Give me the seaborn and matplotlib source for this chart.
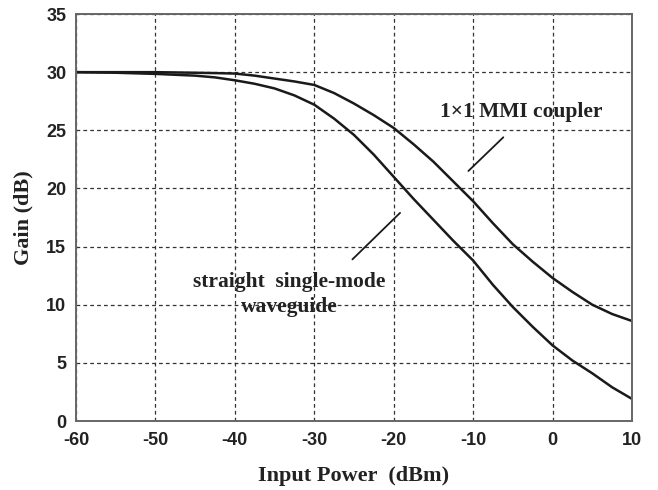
import numpy as np
import pandas as pd
import matplotlib
matplotlib.use("Agg")
import matplotlib.pyplot as plt
import seaborn as sns
from matplotlib.ticker import MultipleLocator

# values
input_power = [-60, -55, -50, -45, -42.5, -40, -37.5, -35, -32.5, -30, -27.5, -25, -22.5, -20,
               -17.5, -15, -12.5, -10, -7.5, -5, -2.5, 0, 2.5, 5, 7.5, 10]
gain_mmi = [30.0, 30.0, 30.0, 29.95, 29.92, 29.88, 29.7, 29.45, 29.2, 28.9, 28.2, 27.3, 26.3, 25.2,
            23.8, 22.3, 20.6, 18.9, 17.0, 15.2, 13.7, 12.3, 11.1, 10.0, 9.2, 8.6]
gain_straight = [30.0, 29.95, 29.85, 29.7, 29.55, 29.3, 29.0, 28.6, 28.0, 27.2, 26.0, 24.6, 22.9, 21.0,
                 19.1, 17.3, 15.5, 13.8, 11.7, 9.8, 8.1, 6.5, 5.2, 4.1, 2.9, 1.9]

x_ticks = [-60, -50, -40, -30, -20, -10, 0, 10]
y_ticks = [0, 5, 10, 15, 20, 25, 30, 35]

df = pd.DataFrame({"power": input_power * 2,
                   "gain": gain_mmi + gain_straight,
                   "guide": ["mmi"] * len(input_power) + ["straight"] * len(input_power)})

sns.set_style("white")
plt.rcParams['font.family'] = ['Liberation Sans', 'DejaVu Sans']
plt.rcParams['axes.unicode_minus'] = False

fig = plt.figure(figsize=(6.58, 4.90), dpi=100)
ax = fig.add_axes([0.1155, 0.1408, 0.845, 0.8306])

sns.lineplot(data=df, x="power", y="gain", units="guide", estimator=None,
             color="#1a1a1a", linewidth=1.8, ax=ax, legend=False)

ax.set_xlim(-60, 10)
ax.set_ylim(0, 35)
ax.set_xticks(x_ticks)
ax.set_yticks(y_ticks)
ax.set_xticklabels([str(v) for v in x_ticks])
ax.set_yticklabels([str(v) for v in y_ticks])
ax.xaxis.set_minor_locator(MultipleLocator(5))
ax.yaxis.set_minor_locator(MultipleLocator(2.5))
ax.tick_params(which="both", direction="in", top=False, right=False, color="#555555")
ax.tick_params(which="major", length=0, labelsize=13, labelcolor="#222222")
ax.tick_params(axis="x", which="major", pad=8)
ax.tick_params(axis="y", which="major", pad=7)
ax.tick_params(which="minor", length=4, width=1)
for lab in ax.get_xticklabels() + ax.get_yticklabels():
    lab.set_fontweight("bold")

ax.grid(True, which="major", linestyle=(0, (3, 2.5)), color="#333333", linewidth=0.9)
for s in ax.spines.values():
    s.set_color("#666666")
    s.set_linewidth(1.4)
    s.set_visible(True)

serif = ['Liberation Serif', 'DejaVu Serif']
ax.set_xlabel("Input Power  (dBm)", family=serif, fontweight="bold", fontsize=16, color="#222222", labelpad=12)
ax.set_ylabel("Gain (dB)", family=serif, fontweight="bold", fontsize=16, color="#222222", labelpad=9)

ax.text(-3.9, 26.6, "1×1 MMI coupler", family=serif, fontweight="bold", fontsize=15.5,
        ha="center", va="center", color="#222222")
ax.plot([-6.2, -10.6], [24.4, 21.5], color="#1a1a1a", linewidth=1.3)

ax.text(-33.2, 10.9, "straight  single-mode\nwaveguide", family=serif, fontweight="bold", fontsize=15.5,
        ha="center", va="center", linespacing=1.3, color="#222222")
ax.plot([-19.2, -25.2], [17.9, 13.9], color="#1a1a1a", linewidth=1.3)

fig.savefig("out.png", dpi=100)
